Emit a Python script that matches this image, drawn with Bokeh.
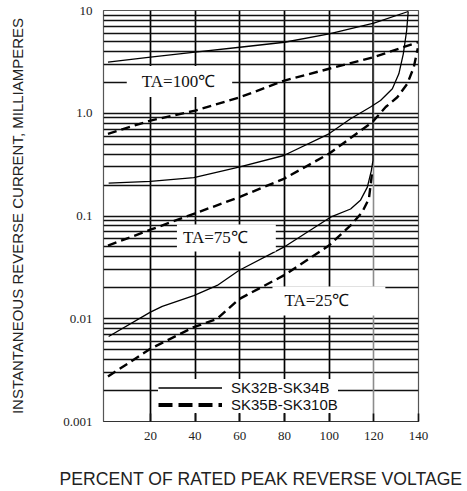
import math
from bokeh.plotting import figure
from bokeh.models import Range1d, FixedTicker, Grid, Label, Legend, LegendItem
from bokeh.embed import file_html
from bokeh.resources import INLINE

# ---------------- data ----------------
X_MIN, X_MAX = -1, 140
Y_MIN, Y_MAX = 0.001, 10

x_ticks = [20, 40, 60, 80, 100, 120, 140]
x_tick_labels = ["20", "40", "60", "80", "100", "120", "140"]
y_ticks = [10, 1, 0.1, 0.01, 0.001]
y_tick_labels = ["10", "1.0", "0.1", "0.01", "0.001"]

# TA = 100 C
solid_100_x = [1, 20, 40, 60, 80, 100, 120, 135.4]
solid_100_y = [3.14, 3.51, 3.93, 4.39, 4.91, 5.93, 7.52, 9.78]
dash_100_x = [1, 20, 40, 60, 80, 100, 120, 139.7]
dash_100_y = [0.631, 0.849, 1.06, 1.43, 2.08, 2.71, 3.51, 4.91]
# TA = 75 C
solid_75_x = [1.3, 20, 39.4, 59.6, 79.7, 99.9, 109.6, 118.5, 123, 128.3, 131.2, 133.2, 134.7, 135.4]
solid_75_y = [0.209, 0.217, 0.236, 0.299, 0.388, 0.631, 0.883, 1.15, 1.33, 1.73, 2.42, 3.79, 6.38, 9.78]
dash_75_x = [1, 20, 39.4, 59.6, 79.7, 99.9, 119.3, 125.3, 130.5, 135, 137.9, 139.7]
dash_75_y = [0.0516, 0.0735, 0.105, 0.152, 0.230, 0.403, 0.818, 1.15, 1.43, 1.94, 2.81, 4.3]
# TA = 25 C
solid_25_x = [1.3, 20, 25.3, 39.4, 49.9, 59.6, 79.7, 100.6, 109.6, 114, 117.1, 118.9, 119.6, 119.6]
solid_25_y = [0.00671, 0.0116, 0.0132, 0.0168, 0.0211, 0.0295, 0.0497, 0.0973, 0.117, 0.142, 0.191, 0.277, 0.347, 10]
dash_25_x = [1, 20, 39.4, 49.9, 59.6, 79.7, 99.9, 109.6, 114.8, 117.8, 118.9, 119.3]
dash_25_y = [0.00274, 0.0051, 0.00828, 0.0100, 0.0155, 0.0264, 0.0516, 0.0809, 0.109, 0.147, 0.230, 0.277]

ta_texts = ["TA=100\u2103", "TA=75\u2103", "TA=25\u2103"]
ta_x = [33.0, 54.0, 99.9]
ta_y = [2.04, 0.0611, 0.0149]

legend_labels = ["SK32B-SK34B", "SK35B-SK310B"]
x_title = "PERCENT OF RATED PEAK REVERSE VOLTAGE"
y_title = "INSTANTANEOUS REVERSE CURRENT, MILLIAMPERES"

# ---------------- styling ----------------
SERIF = "Liberation Serif"
SANS = "Liberation Sans"
GRID = "#111111"

p = figure(frame_width=315, frame_height=411,
           x_range=Range1d(X_MIN, X_MAX), y_range=Range1d(Y_MIN, Y_MAX),
           y_axis_type="log", output_backend="svg", toolbar_location=None,
           min_border_left=103, min_border_right=49, min_border_top=10, min_border_bottom=70)
p.background_fill_color = "white"
p.border_fill_color = "white"
p.outline_line_color = "#555555"
p.outline_line_width = 1.2

minor = [k * d for d in y_ticks[1:] for k in range(2, 10)]
p.yaxis.ticker = FixedTicker(ticks=y_ticks, minor_ticks=minor)
p.yaxis.major_label_overrides = {v: s for v, s in zip(y_ticks, y_tick_labels)}
p.yaxis.major_tick_line_color = None
p.yaxis.minor_tick_line_color = None
p.yaxis.axis_line_color = None
p.yaxis.major_label_standoff = 5
p.yaxis.major_label_text_font = SERIF
p.yaxis.major_label_text_font_size = "13px"
p.yaxis.major_label_text_color = "#222222"
p.yaxis.axis_label = y_title
p.yaxis.axis_label_text_font = SANS
p.yaxis.axis_label_text_font_style = "normal"
p.yaxis.axis_label_text_font_size = "15px"
p.yaxis.axis_label_text_color = "#222222"
p.yaxis.axis_label_standoff = 34

p.ygrid.grid_line_color = GRID
p.ygrid.grid_line_width = 1.3
p.ygrid.minor_grid_line_color = GRID
p.ygrid.minor_grid_line_width = 1.3

p.xaxis.ticker = FixedTicker(ticks=x_ticks)
p.xaxis.major_label_overrides = {v: s for v, s in zip(x_ticks, x_tick_labels)}
p.xaxis.major_tick_in = 8
p.xaxis.major_tick_out = 0
p.xaxis.minor_tick_line_color = None
p.xaxis.major_tick_line_color = "#111111"
p.xaxis.major_tick_line_width = 1.6
p.xaxis.axis_line_color = "#333333"
p.xaxis.major_label_standoff = 10
p.xaxis.major_label_text_font = SERIF
p.xaxis.major_label_text_font_size = "13px"
p.xaxis.major_label_text_color = "#222222"
p.xaxis.axis_label = x_title
p.xaxis.axis_label_text_font = SANS
p.xaxis.axis_label_text_font_style = "normal"
p.xaxis.axis_label_text_font_size = "17.6px"
p.xaxis.axis_label_text_color = "#222222"
p.xaxis.axis_label_standoff = 26

black_ticks = x_ticks[:5]
p.xgrid.ticker = FixedTicker(ticks=black_ticks)
p.xgrid.grid_line_color = "#000000"
p.xgrid.grid_line_width = 1.7
g120 = Grid(dimension=0, ticker=FixedTicker(ticks=[x_ticks[5]]),
            grid_line_color="#8c8c8c", grid_line_width=1.6)
p.add_layout(g120)

SW, DW, DASH = 1.3, 2.4, "9 5"
p.line(solid_100_x, solid_100_y, line_color="black", line_width=SW)
p.line(dash_100_x, dash_100_y, line_color="black", line_width=DW, line_dash=DASH)
p.line(solid_75_x, solid_75_y, line_color="black", line_width=SW)
p.line(dash_75_x, dash_75_y, line_color="black", line_width=DW, line_dash=DASH)
p.line(solid_25_x, solid_25_y, line_color="black", line_width=SW)
p.line(dash_25_x, dash_25_y, line_color="black", line_width=DW, line_dash=DASH)

# legend-only renderers (no visible data)
r_solid = p.line([math.nan], [math.nan], line_color="black", line_width=1.4)
r_dash = p.line([math.nan], [math.nan], line_color="black", line_width=3.8, line_dash="14 6")
legend = Legend(items=[LegendItem(label=legend_labels[0], renderers=[r_solid]),
                       LegendItem(label=legend_labels[1], renderers=[r_dash])],
                location=(55, 8), glyph_width=64, glyph_height=17, label_height=17,
                spacing=0, padding=5, margin=0, label_standoff=9,
                label_text_font=SANS, label_text_font_size="15px", label_text_color="#111111",
                border_line_color=None, background_fill_color="white", background_fill_alpha=1.0)
p.add_layout(legend)

# TA labels with white boxes (anchor = box centre)
ta_pads = [dict(left=15, right=17, top=6, bottom=6),
           dict(left=6, right=28, top=4, bottom=4),
           dict(left=12, right=36, top=5, bottom=5)]
for t, xx, yy, pad in zip(ta_texts, ta_x, ta_y, ta_pads):
    p.add_layout(Label(x=xx, y=yy, text=t, text_font=SERIF, text_font_size="17px",
                       text_align="center", text_baseline="middle", text_color="#111111",
                       background_fill_color="white", background_fill_alpha=1.0, padding=pad))

open("out.html", "w").write(file_html(p, INLINE))
